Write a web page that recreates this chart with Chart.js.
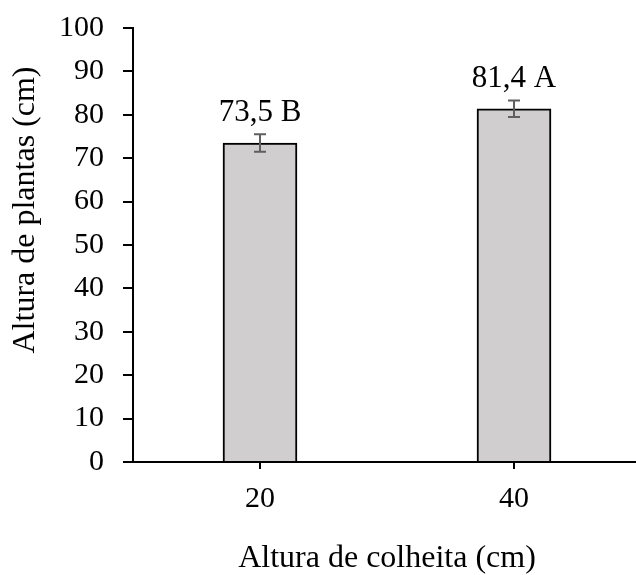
<!DOCTYPE html>
<html>
<head>
<meta charset="utf-8">
<script src="https://cdn.jsdelivr.net/npm/chart.js@4"></script>
<style>
  html, body { margin: 0; padding: 0; background: #fff; overflow: hidden; }
  canvas { display: block; }
</style>
</head>
<body>
<canvas id="chart" width="641" height="575"></canvas>
<script>
const categories = ['20', '40'];
const alturaPlantas = [73.5, 81.4];
const erroPadrao = [2.0, 1.9];
const letras = ['B', 'A'];
const yTicks = [0, 10, 20, 30, 40, 50, 60, 70, 80, 90, 100];

const serif = '"Liberation Serif", "Times New Roman", serif';

// barras de erro + rótulos acima delas
const errorBarsPlugin = {
    id: 'errorBars',
    afterDatasetsDraw(chart) {
        const ctx = chart.ctx;
        const meta = chart.getDatasetMeta(0);
        const y = chart.scales.y;
        ctx.save();
        meta.data.forEach((bar, i) => {
            const v = alturaPlantas[i];
            const e = erroPadrao[i];
            const yTop = y.getPixelForValue(v + e);
            const yBot = y.getPixelForValue(v - e);
            ctx.strokeStyle = '#5f5f5f';
            ctx.lineWidth = 2;
            ctx.beginPath();
            ctx.moveTo(bar.x, yTop);
            ctx.lineTo(bar.x, yBot);
            ctx.moveTo(bar.x - 6, yTop);
            ctx.lineTo(bar.x + 6, yTop);
            ctx.moveTo(bar.x - 6, yBot);
            ctx.lineTo(bar.x + 6, yBot);
            ctx.stroke();

            ctx.fillStyle = '#000';
            ctx.font = '31px ' + serif;
            ctx.textAlign = 'center';
            ctx.textBaseline = 'alphabetic';
            ctx.fillText(v.toFixed(1).replace('.', ',') + ' ' + letras[i], bar.x, yTop - 13);
        });
        ctx.restore();
    }
};

// título do eixo y (fica deslocado para cima no original)
const yTitlePlugin = {
    id: 'yTitle',
    afterDraw(chart) {
        const ctx = chart.ctx;
        ctx.save();
        ctx.translate(26, 210);
        ctx.rotate(-Math.PI / 2);
        ctx.font = '32px ' + serif;
        ctx.fillStyle = '#000';
        ctx.textAlign = 'center';
        ctx.textBaseline = 'middle';
        ctx.fillText('Altura de plantas (cm)', 0, 0);
        ctx.restore();
    }
};

const ctx = document.getElementById('chart').getContext('2d');

new Chart(ctx, {
    type: 'bar',
    data: {
        labels: categories,
        datasets: [{
            data: alturaPlantas,
            backgroundColor: '#d0cece',
            borderColor: '#000',
            borderWidth: 2,
            barThickness: 74
        }]
    },
    options: {
        responsive: false,
        animation: false,
        layout: { padding: { top: 28, right: 0, left: 0, bottom: 0 } },
        plugins: {
            legend: { display: false },
            tooltip: { enabled: false }
        },
        scales: {
            x: {
                grid: { offset: false, drawOnChartArea: false, tickLength: 7, color: '#000', lineWidth: 2 },
                border: { color: '#000', width: 2 },
                ticks: { color: '#000', font: { family: serif, size: 30 }, padding: 12 },
                title: {
                    display: true,
                    text: 'Altura de colheita (cm)',
                    color: '#000',
                    font: { family: serif, size: 32, lineHeight: 1 },
                    padding: { top: 0, bottom: 0 }
                },
                afterFit(scale) {
                    scale.height = 113;
                    scale.paddingLeft = 0;
                    scale.paddingRight = 0;
                }
            },
            y: {
                min: 0,
                max: 100,
                afterBuildTicks(scale) { scale.ticks = yTicks.map(v => ({ value: v })); },
                grid: { drawOnChartArea: false, tickLength: 10, color: '#000', lineWidth: 2 },
                border: { color: '#000', width: 2 },
                ticks: { color: '#000', font: { family: serif, size: 30 }, padding: 19 },
                afterFit(scale) {
                    scale.width = 133;
                    scale.paddingTop = 0;
                    scale.paddingBottom = 0;
                }
            }
        }
    },
    plugins: [errorBarsPlugin, yTitlePlugin]
});
</script>
</body>
</html>
